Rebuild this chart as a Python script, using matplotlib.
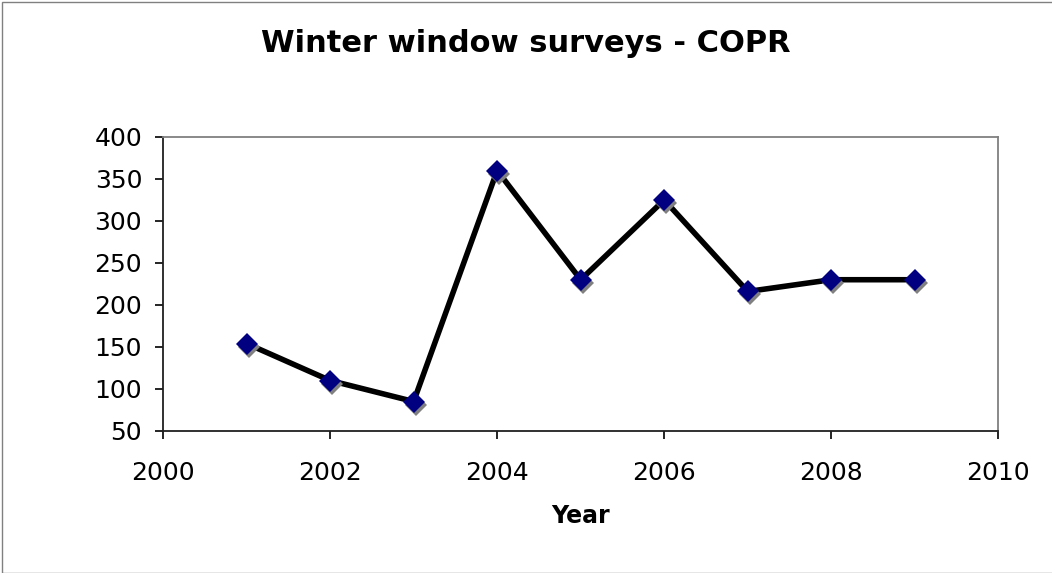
import matplotlib
matplotlib.use("Agg")
import matplotlib.pyplot as plt
from matplotlib.transforms import offset_copy
from matplotlib.patches import Rectangle

# --- Data ---
years = [2001, 2002, 2003, 2004, 2005, 2006, 2007, 2008, 2009]
counts = [154, 110, 85, 360, 230, 325, 216, 230, 230]
x_ticks = [2000, 2002, 2004, 2006, 2008, 2010]
y_ticks = [50, 100, 150, 200, 250, 300, 350, 400]

plt.rcParams['font.family'] = ['DejaVu Sans']

fig = plt.figure(figsize=(10.52, 5.73), dpi=100)
ax = fig.add_axes([0.155, 0.248, 0.794, 0.513])

# line
ax.plot(years, counts, color='black', linewidth=4.0, zorder=2)

# marker shadows, offset a bit to the lower right
shadow = offset_copy(ax.transData, fig=fig, x=2, y=-3, units='dots')
ax.plot(years, counts, linestyle='', marker='D', markersize=11,
        color='#808080', markeredgewidth=0, transform=shadow, zorder=3)
ax.plot(years, counts, linestyle='', marker='D', markersize=11,
        color='#000080', markeredgewidth=0, zorder=4)

ax.set_xlim(2000, 2010)
ax.set_ylim(50, 400)
ax.set_xticks(x_ticks)
ax.set_yticks(y_ticks)
ax.tick_params(axis='both', direction='out', length=6, width=1.2,
               labelsize=18, colors='black')
ax.tick_params(axis='x', pad=16)
ax.tick_params(axis='y', pad=9)
for side in ['left', 'bottom']:
    ax.spines[side].set_color('#202020')
    ax.spines[side].set_linewidth(1.3)
for side in ['top', 'right']:
    ax.spines[side].set_color('#808080')
    ax.spines[side].set_linewidth(1.3)

ax.set_xlabel("Year", fontsize=17, fontweight='bold', va='baseline')
ax.xaxis.set_label_coords(0.5, -0.313)
fig.text(0.5, 0.909, "Winter window surveys - COPR", ha='center', va='baseline',
         fontsize=22, fontweight='bold')

# thin border around the chart area
fig.patches.append(Rectangle((0.002, 0.0), 1.5, 0.997, transform=fig.transFigure,
                             fill=False, edgecolor='#808080', linewidth=1.0))

fig.savefig("out.png", dpi=100)
